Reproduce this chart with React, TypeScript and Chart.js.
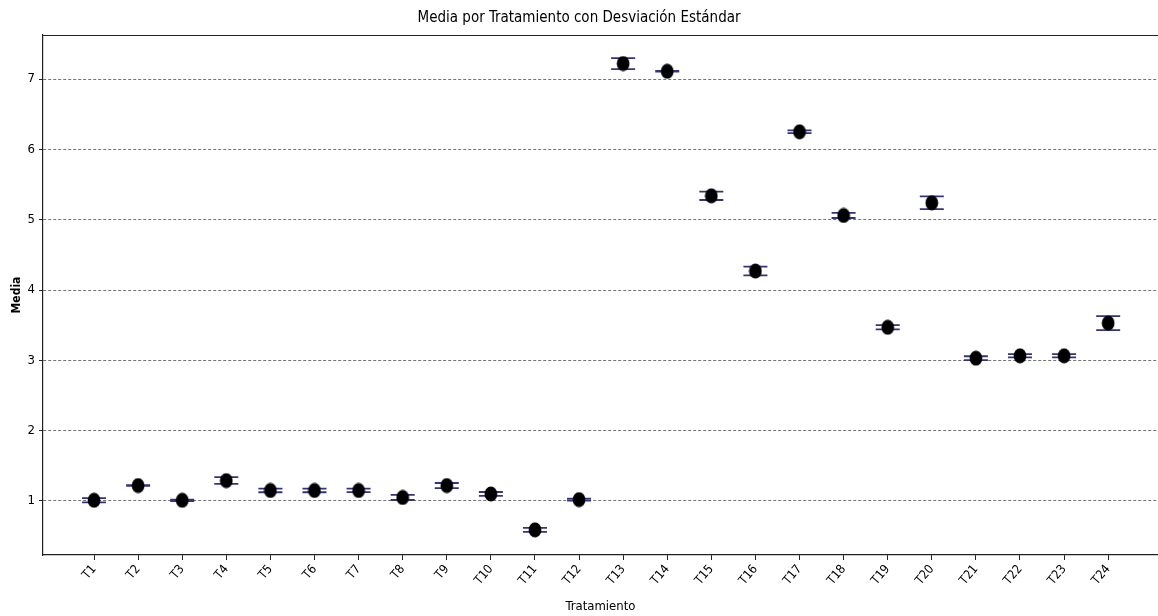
import React, { useEffect, useRef } from "react";
import { Chart, registerables } from "chart.js";

Chart.register(...registerables);

const categories = ["T1","T2","T3","T4","T5","T6","T7","T8","T9","T10","T11","T12","T13","T14","T15","T16","T17","T18","T19","T20","T21","T22","T23","T24"];
const means = [1.01,1.22,1.01,1.29,1.15,1.15,1.15,1.05,1.22,1.10,0.59,1.02,7.22,7.11,5.34,4.27,6.25,5.06,3.47,5.24,3.03,3.065,3.065,3.53];
const stds = [0.031,0.005,0.01,0.048,0.026,0.026,0.025,0.036,0.036,0.028,0.028,0.015,0.078,0.005,0.06,0.062,0.02,0.036,0.031,0.09,0.028,0.024,0.024,0.10];
const yTicks = [1,2,3,4,5,6,7];

const FONT = "'DejaVu Sans Condensed', 'DejaVu Sans', sans-serif";
const ERR_COLOR = "#34347a";

function makeMarker(): HTMLCanvasElement {
  const c = document.createElement("canvas");
  c.width = 14;
  c.height = 16;
  const ctx = c.getContext("2d")!;
  ctx.fillStyle = "#000";
  ctx.beginPath();
  ctx.ellipse(7, 8, 6.4, 7.6, 0, 0, Math.PI * 2);
  ctx.fill();
  return c;
}

const errorBarPlugin = {
  id: "errorBars",
  beforeDatasetsDraw(chart: any) {
    const { ctx, scales } = chart;
    const xs = scales.x, ys = scales.y;
    ctx.save();
    ctx.strokeStyle = ERR_COLOR;
    for (let i = 0; i < means.length; i++) {
      const x = xs.getPixelForValue(i);
      const yTop = ys.getPixelForValue(means[i] + stds[i]);
      const yBot = ys.getPixelForValue(means[i] - stds[i]);
      ctx.lineWidth = 1.5;
      ctx.beginPath();
      ctx.moveTo(x, yTop);
      ctx.lineTo(x, yBot);
      ctx.stroke();
      ctx.lineWidth = 1.8;
      ctx.beginPath();
      ctx.moveTo(x - 12, yTop);
      ctx.lineTo(x + 12, yTop);
      ctx.moveTo(x - 12, yBot);
      ctx.lineTo(x + 12, yBot);
      ctx.stroke();
    }
    ctx.restore();
  },
};

const framePlugin = {
  id: "frame",
  afterDraw(chart: any) {
    const { ctx, chartArea } = chart;
    ctx.save();
    ctx.strokeStyle = "#222";
    ctx.lineWidth = 1.2;
    ctx.beginPath();
    ctx.moveTo(chartArea.left, chartArea.top + 0.5);
    ctx.lineTo(chartArea.right, chartArea.top + 0.5);
    ctx.stroke();
    ctx.restore();
  },
};

export default function App() {
  const ref = useRef<HTMLCanvasElement | null>(null);
  useEffect(() => {
    document.body.style.margin = "0";
    const canvas = ref.current!;
    const marker = makeMarker();
    const chart = new Chart(canvas, {
      type: "scatter",
      data: {
        datasets: [
          {
            data: means.map((m, i) => ({ x: i, y: m })),
            pointStyle: marker as any,
            pointRadius: 7,
            backgroundColor: "#000",
            borderColor: "#000",
          },
        ],
      },
      plugins: [errorBarPlugin, framePlugin],
      options: {
        animation: false,
        responsive: false,
        maintainAspectRatio: false,
        layout: { autoPadding: false, padding: { top: 0, right: 0, left: 0, bottom: 0 } },
        plugins: {
          legend: { display: false },
          tooltip: { enabled: false },
          title: {
            display: true,
            text: "Media por Tratamiento con Desviación Estándar",
            color: "#000",
            font: { family: FONT, size: 15, weight: "normal" },
            padding: { top: 9, bottom: 8 },
          },
        },
        scales: {
          x: {
            type: "linear",
            min: -1.157,
            max: 24.13,
            afterFit: (s: any) => { s.height = 61; s.paddingLeft = 0; s.paddingRight = 0; },
            afterBuildTicks: (s: any) => { s.ticks = categories.map((_, i) => ({ value: i })); },
            grid: { drawOnChartArea: false, drawTicks: true, tickLength: 5, tickColor: "#222", tickWidth: 1 },
            border: { display: true, color: "#222", width: 1.2 },
            ticks: {
              autoSkip: false,
              maxRotation: 50,
              minRotation: 50,
              padding: 2,
              color: "#000",
              font: { family: FONT, size: 12.5 },
              callback: (v: any) => categories[v as number] ?? "",
            },
            title: {
              display: true,
              text: "Tratamiento",
              color: "#000",
              font: { family: FONT, size: 13 },
              padding: { top: 0, bottom: 2 },
            },
          },
          y: {
            type: "linear",
            min: 0.232,
            max: 7.626,
            afterFit: (s: any) => { s.width = 43; },
            afterBuildTicks: (s: any) => { s.ticks = yTicks.map((v) => ({ value: v })); },
            grid: { drawOnChartArea: true, drawTicks: true, tickLength: 4, color: "rgba(50,50,50,0.85)", lineWidth: 0.8, tickColor: "#222", tickWidth: 1 },
            border: { display: true, color: "#222", width: 1.2, dash: [3, 2] },
            ticks: {
              padding: 4,
              color: "#000",
              font: { family: FONT, size: 13 },
              callback: (v: any) => String(v),
            },
            title: {
              display: true,
              text: "Media",
              color: "#000",
              font: { family: FONT, size: 12, weight: "bold" },
              padding: { top: 10, bottom: 0 },
            },
          },
        },
      },
    });
    return () => chart.destroy();
  }, []);
  return (
    <div style={{ width: 1158, height: 616, background: "#fff" }}>
      <canvas ref={ref} width={1158} height={616} style={{ display: "block" }} />
    </div>
  );
}
